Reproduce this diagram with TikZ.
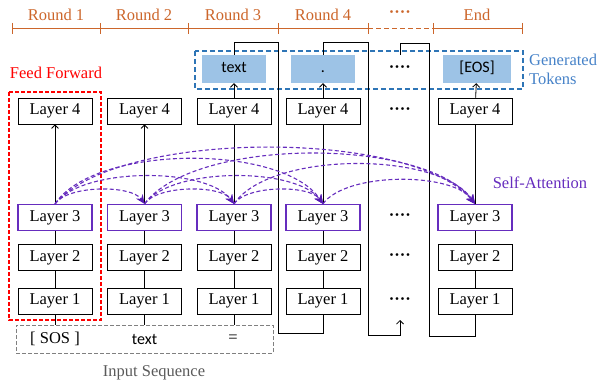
\documentclass[tikz,border=0pt]{standalone}
\usepackage{fontspec}
\setmainfont{Liberation Serif}
\newfontfamily\tokfont{Carlito}
\usetikzlibrary{arrows.meta}
\definecolor{rndc}{RGB}{204,102,43}
\definecolor{attnc}{RGB}{102,45,190}
\definecolor{attnhead}{RGB}{88,28,180}
\definecolor{genc}{RGB}{46,117,182}
\definecolor{gentext}{RGB}{70,130,200}
\definecolor{tokfill}{RGB}{157,195,230}
\definecolor{inpc}{RGB}{128,128,128}
\definecolor{inptext}{RGB}{90,90,90}
\begin{document}
\begin{tikzpicture}[x=1pt,y=-1pt,font=\fontsize{16.5}{19}\selectfont]
\tikzset{
  layer/.style={draw=black,line width=0.8pt,minimum width=74pt,minimum height=26pt,inner sep=0pt,fill=white},
  lthree/.style={layer,draw=attnc,line width=1.3pt},
  tok/.style={fill=tokfill,minimum width=64pt,minimum height=28pt,inner sep=0pt,text height=11pt,text depth=3pt,font=\tokfont\fontsize{16}{19}\selectfont},
  plain/.style={inner sep=0pt,font=\tokfont\fontsize{16}{19}\selectfont},
  conn/.style={line width=0.8pt,black},
  arr/.style={conn,-{Straight Barb[length=3.5pt,width=7pt]}},
  attarc/.style={attnc,line width=1.1pt,dash pattern=on 4pt off 2.5pt,-{Stealth[length=9pt,width=8pt,color=attnhead]}},
  rndline/.style={rndc,line width=1pt},
  dotsn/.style={inner sep=0pt,font=\bfseries\fontsize{16.5}{19}\selectfont}
}
\useasboundingbox (0,0) rectangle (602,385);

% timeline
\draw[rndline] (12,29) -- (368,29);
\draw[rndline,dash pattern=on 5pt off 3pt] (368,29) -- (433,29);
\draw[rndline] (433,29) -- (522,29);
\foreach \x in {12,100,188,278,368,433,522} \draw[rndline] (\x,23) -- (\x,34);
\node[rndc] (r1) at (56,15) {Round 1};
\node[rndc] (r2) at (144,15) {Round 2};
\node[rndc] (r3) at (233,15) {Round 3};
\node[rndc] (r4) at (323,15) {Round 4};
\node[rndc,dotsn] (rd) at (400,14) {····};
\node[rndc] (re) at (477,15) {End};

% generated tokens box
\draw[genc,line width=1.2pt,dash pattern=on 5pt off 3pt] (195,51) rectangle (523,89);
\node[gentext,anchor=west,align=left,inner sep=0pt] (gt) at (529,69) {Generated\\Tokens};

% feed forward box
\draw[red,line width=1.2pt,dash pattern=on 4pt off 2pt] (9,92) rectangle (101,320);
\node[red] (ffl) at (56,73) {Feed Forward};

% input sequence
\node[draw=inpc,line width=1pt,dash pattern=on 4pt off 2pt,minimum width=257pt,minimum height=28pt,inner sep=0pt] (inp) at (144.5,339) {};
\node[inner sep=0pt] (i1) at (55,339) {[ SOS ]};
\node[plain] (i2) at (144.5,339) {text};
\node[inner sep=0pt] (i3) at (233,339) {=};
\node[inptext] (isl) at (154,373) {Input Sequence};

\node[attnc] (sa) at (540,183) {Self-Attention};

% feedback coordinates
\coordinate (fbtip) at (400,320);
\coordinate (dtop) at (400,55);

% generated tokens
\node[tok] (t3) at (234,69) {text};
\node[tok] (t4) at (323,69) {.};
\node[dotsn] (td) at (400,69) {····};
\node[tok,minimum width=68pt] (t5) at (477,69) {[EOS]};

% feedback lines
\draw[conn] (t3.north) |- (278,42) -- (278,333) -| (323,314);
\draw[arr] (t4.north) |- (368,42) -- (368,335) -| (fbtip);
\draw[conn] (dtop) |- (429,43) -- (429,336) -| (475,314);

% layers
\foreach \c/\x in {a/55,b/144.5,c/234,d/323,e/475}{
  \node[layer] (L4\c) at (\x,111) {Layer 4};
  \node[lthree] (L3\c) at (\x,217.5) {Layer 3};
  \node[layer] (L2\c) at (\x,257.5) {Layer 2};
  \node[layer] (L1\c) at (\x,301) {Layer 1};
  \draw[conn] (L1\c) -- (L2\c);
  \draw[conn] (L2\c) -- (L3\c);
}
\node[dotsn] (d4) at (400,111) {····};
\node[dotsn] (d3) at (400,217.5) {····};
\node[dotsn] (d2) at (400,257.5) {····};
\node[dotsn] (d1) at (400,301) {····};

\draw[arr] (L3a) -- (L4a);
\draw[arr] (L3b) -- (L4b);
\draw[conn] (L3c) -- (L4c);
\draw[conn] (L3d) -- (L4d);
\draw[conn] (L3e) -- (L4e);
\draw[arr] (L4c) -- (t3);
\draw[arr] (L4d) -- (t4);
\draw[arr] (L4e) -- (t5);
\draw[conn] (L1a.south) -- (L1a.south |- inp.north);
\draw[conn] (L1b.south) -- (L1b.south |- inp.north);
\draw[conn] (L1c.south) -- (L1c.south |- inp.north);

% self-attention arcs
\draw[attarc] (L3a.north) .. controls +(13,-19) and +(-13,-19) .. (L3b.north);
\draw[attarc] (L3b.north) .. controls +(13,-19) and +(-13,-19) .. (L3c.north);
\draw[attarc] (L3c.north) .. controls +(13,-19) and +(-13,-19) .. (L3d.north);
\draw[attarc] (L3a.north) .. controls +(27,-37) and +(-27,-37) .. (L3c.north);
\draw[attarc] (L3b.north) .. controls +(27,-37) and +(-27,-37) .. (L3d.north);
\draw[attarc] (L3a.north) .. controls +(40,-60) and +(-40,-60) .. (L3d.north);
\draw[attarc] (L3d.north) .. controls +(23,-32) and +(-23,-32) .. (L3e.north);
\draw[attarc] (L3c.north) .. controls +(36,-53) and +(-36,-53) .. (L3e.north);
\draw[attarc] (L3b.north) .. controls +(50,-67) and +(-50,-67) .. (L3e.north);
\draw[attarc] (L3a.north) .. controls +(63,-75) and +(-63,-75) .. (L3e.north);
\end{tikzpicture}
\end{document}
